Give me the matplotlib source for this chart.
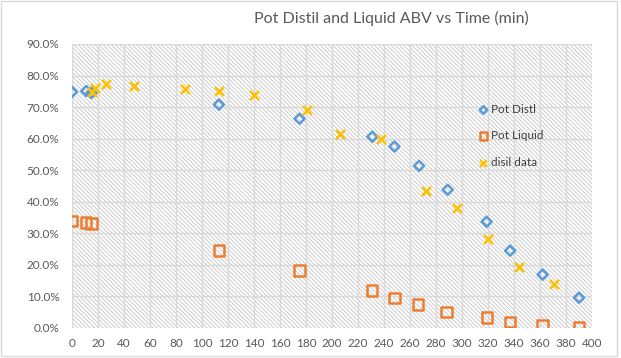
import matplotlib
import matplotlib.pyplot as plt
import matplotlib.ticker
from matplotlib.patches import Rectangle

matplotlib.use('agg')
plt.rcParams['font.family'] = ['Lato', 'DejaVu Sans']
plt.rcParams['hatch.linewidth'] = 0.6

# Pot distil ABV (%) vs time (min)
distil_time = [0, 11, 15, 113, 175, 231, 248, 267, 289, 319, 337, 362, 390]
distil_abv = [74.8, 75.1, 74.5, 70.8, 66.3, 60.6, 57.5, 51.4, 43.8, 33.7, 24.5, 16.9, 9.6]

# Pot liquid ABV (%) vs time (min)
liquid_time = [0, 11, 15, 113, 175, 231, 248, 266, 288, 319, 337, 362, 390]
liquid_abv = [33.8, 33.4, 33.1, 24.6, 18.2, 11.9, 9.6, 7.4, 5.1, 3.3, 2.0, 1.0, 0.4]

# disil data
disil_time = [15, 18, 26, 48, 87, 113, 140, 181, 206, 238, 272, 296, 320, 344, 371]
disil_abv = [74.8, 75.9, 77.3, 76.8, 75.7, 75.0, 73.9, 69.2, 61.6, 60.0, 43.4, 38.1, 28.1, 19.4, 14.0]

TEXT = '#595959'
GRID = '#d9d9d9'

fig = plt.figure(figsize=(6.21, 3.58), dpi=100)
ax = fig.add_axes([72 / 621, 30 / 358, 520 / 621, 284 / 358])

# hatched plot area, like the excel pattern fill
ax.add_patch(Rectangle((0, 0), 1, 1, transform=ax.transAxes, facecolor='white',
                       edgecolor='#c4c4c4', hatch='\\' * 8, linewidth=0, zorder=0))

ax.scatter(distil_time, [v / 100 for v in distil_abv], marker='D', s=26,
           facecolors='none', edgecolors='#5b9bd5', linewidths=1.8, label='Pot Distl', zorder=3)
ax.scatter(liquid_time, [v / 100 for v in liquid_abv], marker='s', s=55,
           facecolors='none', edgecolors='#ed7d31', linewidths=1.8, label='Pot Liquid', zorder=3)
ax.scatter(disil_time, [v / 100 for v in disil_abv], marker='x', s=42,
           color='#ffc000', linewidths=1.8, label='disil data', zorder=3)

ax.set_xlim(0, 400)
ax.set_ylim(0, 0.9)
ax.xaxis.set_major_locator(matplotlib.ticker.MultipleLocator(20))
ax.yaxis.set_major_locator(matplotlib.ticker.MultipleLocator(0.1))
ax.yaxis.set_major_formatter(matplotlib.ticker.PercentFormatter(1.0, decimals=1))
ax.grid(True, color=GRID, linewidth=1, zorder=1)
ax.set_axisbelow(True)
for s in ax.spines.values():
    s.set_visible(False)
ax.tick_params(length=0, labelsize=8.5, labelcolor=TEXT)
ax.tick_params(axis='y', pad=9)
ax.tick_params(axis='x', pad=7)

leg = ax.legend(loc='upper left', bbox_to_anchor=(0.772, 0.805), frameon=False,
                fontsize=8.5, labelspacing=1.3, handletextpad=0.15, handlelength=0.9,
                borderaxespad=0, markerscale=0.75)
for t in leg.get_texts():
    t.set_color('#404040')

fig.text(391 / 621, 1 - 18 / 358, 'Pot Distil and Liquid ABV vs Time (min)',
         ha='center', va='center', fontsize=11.5, color=TEXT)

# chart area border
fig.patches.append(Rectangle((0.5 / 621, 2 / 358), 616 / 621, 355 / 358,
                             transform=fig.transFigure, facecolor='none',
                             edgecolor='#d9d9d9', linewidth=1))

fig.savefig('out.png', dpi=100)
